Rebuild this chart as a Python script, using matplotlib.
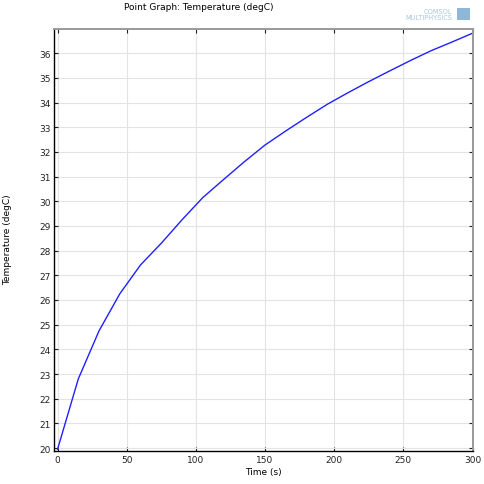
import numpy as np
import matplotlib
matplotlib.use("Agg")
import matplotlib.pyplot as plt
from matplotlib.patches import Rectangle

# temperature probe (nodes every 15 s)
time_s = [0, 15, 30, 45, 60, 75, 90, 105, 120, 135, 150,
          165, 180, 195, 210, 225, 240, 255, 270, 285, 300]
temp_degC = [19.95, 22.8, 24.75, 26.25, 27.42, 28.3, 29.25, 30.15, 30.88, 31.6, 32.28,
             32.85, 33.4, 33.93, 34.4, 34.85, 35.28, 35.7, 36.1, 36.45, 36.81]
x_ticks = [0, 50, 100, 150, 200, 250, 300]
y_ticks = list(range(20, 37))

W = H = 485
fig = plt.figure(figsize=(W / 100, H / 100), dpi=100)
ax = fig.add_axes([54.5 / W, 1 - 452 / H, (473 - 54.5) / W, (452 - 30) / H])

ax.plot(time_s, temp_degC, color="#2020ff", lw=1.0)

ax.set_xlim(-2.2, 300.3)
ax.set_ylim(19.88, 36.98)
ax.set_xticks(x_ticks)
ax.set_yticks(y_ticks)
ax.grid(True, color="#e3e3e3", lw=0.8)
ax.set_axisbelow(True)
ax.tick_params(direction="in", length=3, width=0.8, labelsize=6.5,
               top=True, right=True, colors="#222222", pad=3)

for side in ("left", "bottom"):
    ax.spines[side].set_color("black")
    ax.spines[side].set_linewidth(1.0)
for side in ("top", "right"):
    ax.spines[side].set_color("#999999")
    ax.spines[side].set_linewidth(1.4)

ax.set_xlabel("Time (s)", fontsize=6.5, labelpad=2)
fig.text(8 / W, 1 - 240 / H, "Temperature (degC)", rotation=90,
         ha="center", va="center", fontsize=6.5)
fig.text(124 / W, 1 - 8 / H, "Point Graph: Temperature (degC)",
         ha="left", va="center", fontsize=6.5)

# COMSOL logo
fig.text(452 / W, 1 - 11.5 / H, "COMSOL", ha="right", va="center",
         fontsize=4.8, color="#a8c8e0")
fig.text(452 / W, 1 - 17.5 / H, "MULTIPHYSICS", ha="right", va="center",
         fontsize=4.8, color="#a8c8e0")
fig.patches.append(Rectangle((457 / W, 1 - 21 / H), 13 / W, 12 / H,
                             transform=fig.transFigure, color="#8fb8d8",
                             ec="none"))

fig.savefig("out.png", dpi=100)
